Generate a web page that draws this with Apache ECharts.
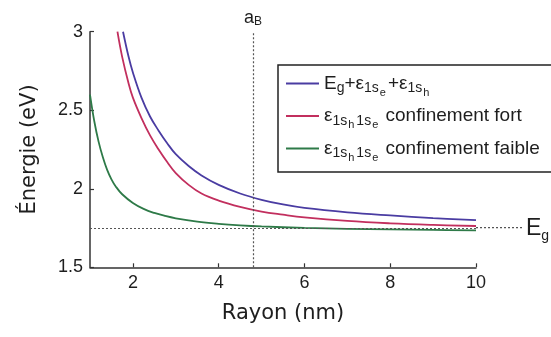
<!DOCTYPE html>
<html>
<head>
<meta charset="utf-8">
<script src="https://cdn.jsdelivr.net/npm/echarts@6/dist/echarts.min.js"></script>
<style>
  html, body { margin: 0; padding: 0; background: #fff; }
  #chart { width: 551px; height: 337px; }
</style>
</head>
<body>
<div id="chart"></div>
<script>
// Exciton energy versus quantum-dot radius (eV vs nm)
const sommeR  = [1.77, 1.9, 2.0, 2.2, 2.4, 2.6, 2.8, 3.0, 3.3, 3.6, 4.0, 4.5, 5.0, 5.5, 6.0, 7.0, 8.0, 9.0, 10];
const sommeE  = [3.00, 2.84, 2.74, 2.58, 2.46, 2.37, 2.29, 2.22, 2.145, 2.085, 2.025, 1.97, 1.93, 1.90, 1.878, 1.85, 1.83, 1.813, 1.80];

const fortR   = [1.64, 1.75, 1.9, 2.0, 2.2, 2.4, 2.6, 2.8, 3.0, 3.3, 3.6, 4.0, 4.5, 5.0, 5.5, 6.0, 7.0, 8.0, 9.0, 10];
const fortE   = [3.00, 2.84, 2.67, 2.58, 2.45, 2.34, 2.25, 2.17, 2.10, 2.025, 1.97, 1.925, 1.885, 1.855, 1.835, 1.818, 1.795, 1.78, 1.77, 1.763];

const faibleR = [1.0, 1.1, 1.2, 1.3, 1.4, 1.5, 1.6, 1.75, 2.0, 2.25, 2.5, 2.75, 3.0, 3.5, 4.0, 4.5, 5.0, 6.0, 7.0, 8.0, 9.0, 10];
const faibleE = [2.60, 2.43, 2.30, 2.20, 2.12, 2.06, 2.015, 1.965, 1.91, 1.872, 1.846, 1.827, 1.812, 1.791, 1.777, 1.767, 1.76, 1.751, 1.745, 1.741, 1.738, 1.735];

const xTicks = [2, 4, 6, 8, 10];
const aB = 4.8;      // Bohr radius (nm)
const Eg = 1.752;    // band gap (eV)

const SANS = 'Liberation Sans';
const NAME_FONT = 'DejaVu Sans';
const TEXT = '#1e1e1e';

const pairs = (xs, ys) => xs.map((x, i) => [x, ys[i]]);

// rich-text fragments for legend entries: main text, subscript, nested subscript
const rich = {
  m:  { fontFamily: SANS, fontSize: 19, color: TEXT, lineHeight: 24 },
  s:  { fontFamily: SANS, fontSize: 14, color: TEXT, lineHeight: 24, padding: [10, 0, 0, 0] },
  ss: { fontFamily: SANS, fontSize: 11, color: TEXT, lineHeight: 24, padding: [18, 2, 0, 1] }
};
const legendText = {
  'somme':  '{m|E}{s|g}{m|+ε}{s|1s}{ss|e}{m|+ε}{s|1s}{ss|h}',
  'fort':   '{m|ε}{s|1s}{ss|h}{s|1s}{ss|e}{m| confinement fort}',
  'faible': '{m|ε}{s|1s}{ss|h}{s|1s}{ss|e}{m| confinement faible}'
};

const chart = echarts.init(document.getElementById('chart'), null, { renderer: 'canvas' });

const lineSeries = (name, data, color, extra) => Object.assign({
  name, type: 'line', data, smooth: 0.4,
  symbol: 'none', showSymbol: false,
  lineStyle: { color, width: 1.8 }, itemStyle: { color },
  clip: true, z: 3
}, extra || {});

chart.setOption({
  animation: false,
  backgroundColor: '#fff',
  grid: { left: 90, right: 75, top: 31.7, bottom: 69.7, containLabel: false },
  xAxis: {
    type: 'value', min: 1, max: 10,
    name: 'Rayon (nm)', nameLocation: 'middle', nameGap: 36,
    nameTextStyle: { fontFamily: NAME_FONT, fontSize: 21, color: TEXT },
    axisLine: { show: true, lineStyle: { color: '#333', width: 1.5 } },
    axisTick: { show: true, inside: true, length: 4, customValues: xTicks, lineStyle: { color: '#333', width: 1.2 } },
    axisLabel: { customValues: xTicks, fontFamily: SANS, fontSize: 18, color: TEXT, margin: 7 },
    splitLine: { show: false }
  },
  yAxis: {
    type: 'value', min: 1.5, max: 3, interval: 0.5,
    name: 'Énergie (eV)', nameLocation: 'middle', nameGap: 50, nameRotate: 90,
    nameTextStyle: { fontFamily: NAME_FONT, fontSize: 21, color: TEXT },
    axisLine: { show: true, lineStyle: { color: '#333', width: 1.5 } },
    axisTick: { show: true, inside: true, length: 4, lineStyle: { color: '#333', width: 1.2 } },
    axisLabel: { fontFamily: SANS, fontSize: 18, color: TEXT, margin: 7 },
    splitLine: { show: false }
  },
  legend: {
    orient: 'vertical', left: 278, top: 65,
    padding: [4, 24, 9, 8], itemGap: 3.5, itemWidth: 33, itemHeight: 2,
    icon: 'rect',
    borderColor: '#222', borderWidth: 1.5, borderRadius: 0,
    backgroundColor: '#fff',
    textStyle: { rich },
    formatter: name => legendText[name],
    data: ['somme', 'fort', 'faible']
  },
  series: [
    lineSeries('somme', pairs(sommeR, sommeE), '#4a3ca2', {
      markLine: {
        silent: true, symbol: 'none', animation: false,
        lineStyle: { type: [2, 2], color: '#555', width: 1.2 },
        data: [
          { xAxis: aB, label: {
              show: true, position: 'end', distance: 4,
              formatter: '{a|a}{b|B}',
              rich: {
                a: { fontFamily: SANS, fontSize: 18, color: TEXT },
                b: { fontFamily: SANS, fontSize: 12, color: TEXT, padding: [8, 0, 0, 0] }
              }
          } },
          { yAxis: Eg, label: { show: false } }
        ]
      }
    }),
    lineSeries('fort', pairs(fortR, fortE), '#c22f5e'),
    lineSeries('faible', pairs(faibleR, faibleE), '#2e7a48')
  ]
});

// the band-gap reference line continues past the plot to its label
const [x0, y0] = chart.convertToPixel({ gridIndex: 0 }, [10, Eg]);
chart.setOption({
  graphic: [
    { type: 'line', silent: true,
      shape: { x1: x0, y1: y0, x2: x0 + 47, y2: y0 },
      style: { stroke: '#555', lineWidth: 1.2, lineDash: [2, 2] } },
    { type: 'text', silent: true, x: x0 + 50, y: y0 + 1,
      style: {
        text: '{e|E}{g|g}', verticalAlign: 'middle',
        rich: {
          e: { fontFamily: SANS, fontSize: 23, fill: TEXT },
          g: { fontFamily: SANS, fontSize: 14, fill: TEXT, padding: [14, 0, 0, 0] }
        }
      } }
  ]
});
</script>
</body>
</html>
